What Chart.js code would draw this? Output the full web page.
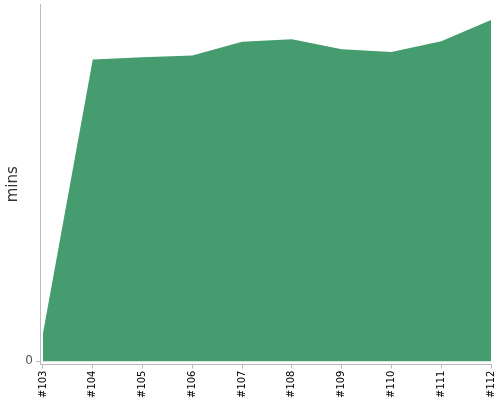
<!DOCTYPE html>
<html>
<head>
<meta charset="utf-8">
<script src="https://cdn.jsdelivr.net/npm/chart.js@4/dist/chart.umd.min.js"></script>
<style>
  html, body { margin: 0; padding: 0; background: #fff; }
  #wrap { width: 500px; height: 400px; }
</style>
</head>
<body>
<div id="wrap"><canvas id="chart"></canvas></div>
<script>
// build numbers along the x axis
const builds = ['#103', '#104', '#105', '#106', '#107', '#108', '#109', '#110', '#111', '#112'];
// build duration, in minutes
const durations = [0.94, 10.14, 10.21, 10.27, 10.73, 10.82, 10.48, 10.39, 10.75, 11.46];
const yTicks = [0];

const points = durations.map((v, i) => ({ x: i, y: v }));

new Chart(document.getElementById('chart'), {
  type: 'line',
  data: {
    datasets: [{
      label: 'mins',
      data: points,
      fill: 'origin',
      backgroundColor: '#459c6e',
      borderWidth: 0,
      pointRadius: 0,
      tension: 0
    }]
  },
  options: {
    responsive: true,
    maintainAspectRatio: false,
    animation: false,
    layout: { padding: 0 },
    plugins: {
      legend: { display: false },
      tooltip: { enabled: false }
    },
    scales: {
      x: {
        type: 'linear',
        min: -0.06,
        max: builds.length - 1,
        afterBuildTicks: scale => {
          scale.ticks = builds.map((b, i) => ({ value: i }));
        },
        afterFit: scale => { scale.paddingRight = 9; },
        ticks: {
          autoSkip: false,
          minRotation: 90,
          maxRotation: 90,
          color: '#000',
          font: { family: 'DejaVu Sans', size: 10 },
          padding: 2,
          callback: v => builds[v]
        },
        grid: { drawOnChartArea: false, tickLength: 4, color: '#bbb' },
        border: { color: '#bbb' }
      },
      y: {
        min: -0.11,
        max: 12,
        afterBuildTicks: scale => {
          scale.ticks = yTicks.map(v => ({ value: v }));
        },
        afterFit: scale => {
          scale.width = 40;
          scale.paddingTop = 4;
        },
        ticks: {
          color: '#555',
          font: { family: 'DejaVu Sans', size: 12 },
          padding: 3
        },
        grid: { drawOnChartArea: false, tickLength: 4, color: '#bbb' },
        border: { color: '#bbb' },
        title: {
          display: true,
          text: 'mins',
          color: '#333',
          font: { family: 'DejaVu Sans', size: 15 },
          padding: { top: 4, bottom: 0 }
        }
      }
    }
  }
});
</script>
</body>
</html>
